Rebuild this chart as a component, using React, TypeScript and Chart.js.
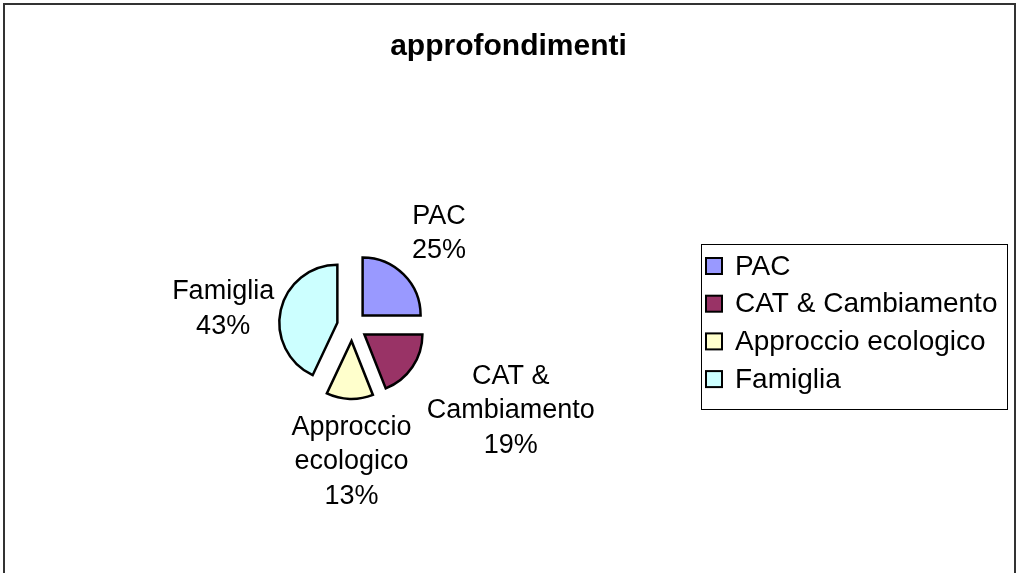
import React, { useEffect, useRef } from "react";
import { Chart, registerables } from "chart.js";

Chart.register(...registerables);

const TITLE = "approfondimenti";
const categories = ["PAC", "CAT & Cambiamento", "Approccio ecologico", "Famiglia"];
const values = [25, 19, 13, 43];
const labelLines = [["PAC"], ["CAT &", "Cambiamento"], ["Approccio", "ecologico"], ["Famiglia"]];
const colors = ["#9999FF", "#993366", "#FFFFCC", "#CCFFFF"];
const labelGap = [23, 35, 10, 7];
const labelNudge = [
  [0, 0],
  [0, -5],
  [4, 1],
  [-1, 8],
];

const FONT = "'Liberation Sans', Arial, Helvetica, sans-serif";
const EXPLODE = 15;
const LINE_H = 34.5;

const explodePlugin = {
  id: "explode",
  beforeDatasetDraw(chart: any, args: any) {
    const ctx = chart.ctx as CanvasRenderingContext2D;
    args.meta.data.forEach((arc: any) => {
      const mid = (arc.startAngle + arc.endAngle) / 2;
      ctx.save();
      ctx.translate(Math.cos(mid) * EXPLODE, Math.sin(mid) * EXPLODE);
      arc.draw(ctx);
      ctx.restore();
    });
    return false;
  },
};

const decorPlugin = {
  id: "decor",
  afterDraw(chart: any) {
    const ctx = chart.ctx as CanvasRenderingContext2D;
    ctx.save();
    // outer frame
    ctx.strokeStyle = "#333333";
    ctx.lineWidth = 2;
    ctx.strokeRect(4, 4, chart.width - 6, chart.height + 100);

    // title
    ctx.fillStyle = "#000";
    ctx.font = `bold 30px ${FONT}`;
    ctx.textAlign = "center";
    ctx.textBaseline = "middle";
    ctx.fillText(TITLE, chart.width / 2, 47);

    // data labels
    const data = chart.data.datasets[0].data as number[];
    const total = data.reduce((a, b) => a + b, 0);
    const meta = chart.getDatasetMeta(0);
    ctx.font = `27px ${FONT}`;
    meta.data.forEach((arc: any, i: number) => {
      const p = arc.getProps(["x", "y", "startAngle", "endAngle", "outerRadius"], true);
      const mid = (p.startAngle + p.endAngle) / 2;
      const dx = Math.cos(mid);
      const dy = Math.sin(mid);
      const lines = [...labelLines[i], Math.round((data[i] / total) * 100) + "%"];
      const w = Math.max(...lines.map((l) => ctx.measureText(l).width));
      const h = lines.length * LINE_H;
      const r = p.outerRadius + EXPLODE + labelGap[i];
      const cx = p.x + dx * r + (dx * w) / 2 + labelNudge[i][0];
      const cy = p.y + dy * r + (dy * h) / 2 + labelNudge[i][1];
      lines.forEach((l, k) => ctx.fillText(l, cx, cy - h / 2 + LINE_H * (k + 0.5)));
    });

    // legend
    const lx = 701, ly = 244, lw = 306, lh = 165;
    ctx.strokeStyle = "#000";
    ctx.lineWidth = 1;
    ctx.strokeRect(lx + 0.5, ly + 0.5, lw, lh);
    const labels = chart.data.labels as string[];
    const bg = chart.data.datasets[0].backgroundColor as string[];
    ctx.textAlign = "left";
    ctx.font = `28px ${FONT}`;
    labels.forEach((lab, i) => {
      const yc = 266 + i * 37.7;
      ctx.fillStyle = bg[i];
      ctx.fillRect(706, yc - 8, 16, 16);
      ctx.lineWidth = 2;
      ctx.strokeStyle = "#000";
      ctx.strokeRect(706, yc - 8, 16, 16);
      ctx.fillStyle = "#000";
      ctx.fillText(lab, 735, yc + 1);
    });
    ctx.restore();
  },
};

export default function App() {
  const ref = useRef<HTMLCanvasElement | null>(null);
  useEffect(() => {
    if (!ref.current) return;
    const chart = new Chart(ref.current, {
      type: "pie",
      data: {
        labels: categories,
        datasets: [
          {
            data: values,
            backgroundColor: colors,
            borderColor: "#000",
            borderWidth: 2.5,
            offset: 0,
            borderJoinStyle: "miter",
            radius: 58,
          } as any,
        ],
      },
      options: {
        responsive: false,
        animation: false,
        layout: { padding: { left: 280, right: 593, top: 253, bottom: 174 } },
        plugins: {
          legend: { display: false },
          title: { display: false },
          tooltip: { enabled: false },
        },
      },
      plugins: [explodePlugin, decorPlugin],
    });
    return () => chart.destroy();
  }, []);
  return (
    <div style={{ position: "absolute", left: 0, top: 0, width: 1017, height: 573, background: "#fff" }}>
      <canvas ref={ref} width={1017} height={573} />
    </div>
  );
}
